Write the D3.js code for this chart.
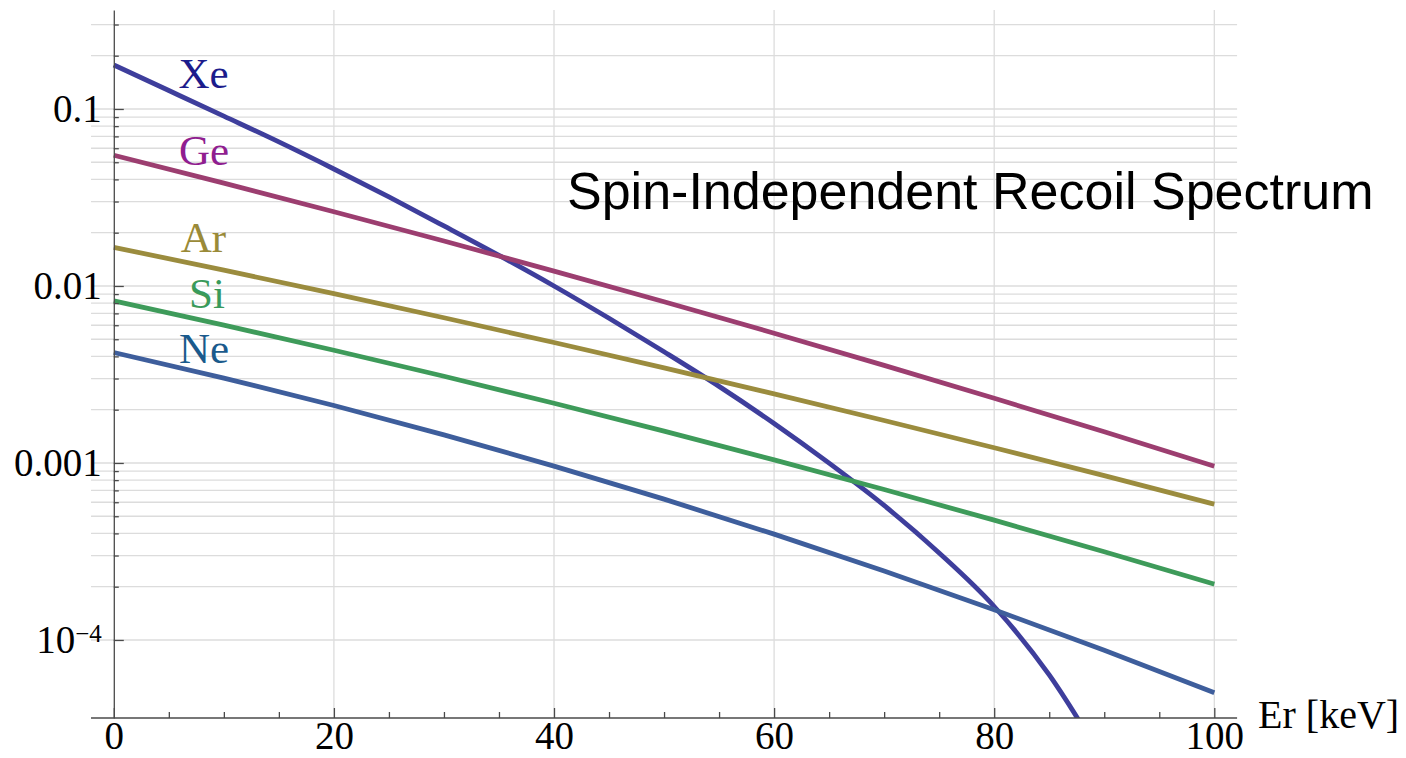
<!DOCTYPE html>
<html>
<head>
<meta charset="utf-8">
<script src="https://cdn.jsdelivr.net/npm/d3@7"></script>
<style>
  html, body { margin: 0; padding: 0; background: white; }
  svg { display: block; }
</style>
</head>
<body>
<svg id="chart"></svg>
<script>
//recoil energies [keV]
var erXe = [0, 5, 10, 15, 20, 25, 30, 35, 40, 45, 50, 55, 60, 65, 70, 75, 80, 85, 90]
var erOther = [0, 10, 20, 30, 40, 50, 60, 70, 80, 90, 100]

//spectra
var xeValues = [0.1773, 0.1271, 0.09106, 0.06511, 0.04581, 0.03183, 0.02183, 0.01489, 0.01000, 0.006569,
                0.004248, 0.002709, 0.001672, 0.0009975, 0.0005753, 0.0003101, 0.0001546, 0.00006343, 0.00002045]
var geValues = [0.05475, 0.03811, 0.02627, 0.01794, 0.01214, 0.008145, 0.005409, 0.003559, 0.002321, 0.0015, 0.0009596]
var arValues = [0.01654, 0.01228, 0.00905, 0.006613, 0.004793, 0.003445, 0.002457, 0.001738, 0.001219, 0.0008482, 0.0005854]
var siValues = [0.008229, 0.006006, 0.004334, 0.00309, 0.002176, 0.001514, 0.001041, 0.0007078, 0.0004752, 0.0003153, 0.0002067]
var neValues = [0.00421, 0.003018, 0.002111, 0.001441, 0.0009605, 0.0006245, 0.0003963, 0.0002454, 0.0001483, 0.00008748, 0.00005035]

//labels next to each curve
var elements = ["Xe", "Ge", "Ar", "Si", "Ne"]
var labelEr = [8.15, 8.2, 8.15, 8.47, 8.2]
var labelVal = [0.1315, 0.0483, 0.01556, 0.00751, 0.00367]

//ticks
var xMajor = [0, 20, 40, 60, 80, 100]
var xMinor = [5, 10, 15, 25, 30, 35, 45, 50, 55, 65, 70, 75, 85, 90, 95]
var yMajor = [1e-4, 1e-3, 1e-2, 1e-1]
var yLabels = ["10-4", "0.001", "0.01", "0.1"]

var svg = d3.select("#chart")

//svg dimensions
var dimensions = {
    width: 1406,
    height: 758,
    margin: {
        top: 10,
        bottom: 40,
        left: 113.8,
        right: 191.7
    }
}

//drawing style
var lineColors = ["#3e3e9c", "#9c3e70", "#9b8c3e", "#3e9b5a", "#3e5e9c"]
var textColors = ["#1c1c8c", "#901e90", "#9a8a38", "#3a9a5a", "#1a5a8c"]
var gridColor = "#dcdcdc"
var axisColor = "#4a4a4a"
var lineWidth = 4.8
var serif = "'Liberation Serif', 'Times New Roman', serif"
var tickFontSize = 39

svg.attr("width", dimensions.width)
   .attr("height", dimensions.height)

//scales
var x = d3.scaleLinear()
          .domain([0, 100])
          .range([dimensions.margin.left, dimensions.width - dimensions.margin.right])
var y = d3.scaleLog()
          .domain([3.624e-5, 0.3624])
          .range([dimensions.height - dimensions.margin.bottom, dimensions.margin.top])

var xPad = 2.07
var plotBottom = y.range()[0]
var plotTop = y.range()[1]

//gridlines, one per minor tick
var gridVals = []
for (var e = -4; e <= -1; e++) {
    for (var k = 1; k <= 9; k++) {
        var v = k * Math.pow(10, e)
        if (v <= y.domain()[1]) gridVals.push(v)
    }
}
svg.append("g")
   .selectAll("line")
   .data(gridVals)
   .enter()
   .append("line")
   .attr("x1", x(-xPad))
   .attr("x2", x(100 + xPad))
   .attr("y1", d => y(d))
   .attr("y2", d => y(d))
   .attr("stroke", gridColor)
   .attr("stroke-width", 1.3)
svg.append("g")
   .selectAll("line")
   .data(xMajor.slice(1))
   .enter()
   .append("line")
   .attr("x1", d => x(d))
   .attr("x2", d => x(d))
   .attr("y1", plotTop)
   .attr("y2", plotBottom)
   .attr("stroke", gridColor)
   .attr("stroke-width", 1.3)

//curves, clipped to the frame
svg.append("clipPath")
   .attr("id", "plot-clip")
   .append("rect")
   .attr("x", x(-xPad))
   .attr("y", plotTop)
   .attr("width", x(100 + xPad) - x(-xPad))
   .attr("height", plotBottom - plotTop)

var series = [
    erXe.map((d, i) => ({er: d, v: xeValues[i]})),
    erOther.map((d, i) => ({er: d, v: geValues[i]})),
    erOther.map((d, i) => ({er: d, v: arValues[i]})),
    erOther.map((d, i) => ({er: d, v: siValues[i]})),
    erOther.map((d, i) => ({er: d, v: neValues[i]}))
]

var line = d3.line()
             .x(d => x(d.er))
             .y(d => y(d.v))
             .curve(d3.curveMonotoneX)

svg.append("g")
   .attr("clip-path", "url(#plot-clip)")
   .selectAll("path")
   .data(series)
   .enter()
   .append("path")
   .attr("d", d => line(d))
   .attr("fill", "none")
   .attr("stroke", (d, i) => lineColors[i])
   .attr("stroke-width", lineWidth)
   .attr("stroke-linejoin", "round")

//axes
var xAxis = svg.append("g")
               .attr("transform", `translate(0,${plotBottom})`)
               .call(d3.axisBottom(x).tickValues(xMajor).tickSizeInner(-10).tickSizeOuter(0).tickPadding(3))
var xMinorAxis = svg.append("g")
                    .attr("transform", `translate(0,${plotBottom})`)
                    .call(d3.axisBottom(x).tickValues(xMinor).tickSizeInner(-6).tickSizeOuter(0).tickFormat(""))
xMinorAxis.select(".domain").remove()
xAxis.select(".domain")
     .attr("d", `M${x(-xPad)},0H${x(100 + xPad)}`)

var yAxis = svg.append("g")
               .attr("transform", `translate(${x(0)},0)`)
               .call(d3.axisLeft(y).tickValues(yMajor).tickSizeInner(-10).tickSizeOuter(0).tickPadding(12)
                       .tickFormat((d, i) => yLabels[i]))
var yMinorAxis = svg.append("g")
                    .attr("transform", `translate(${x(0)},0)`)
                    .call(d3.axisLeft(y).tickValues(gridVals.filter(d => yMajor.indexOf(d) < 0))
                            .tickSizeInner(-5).tickSizeOuter(0).tickFormat(""))
yMinorAxis.select(".domain").remove()

svg.selectAll(".domain, .tick line")
   .attr("stroke", axisColor)
   .attr("stroke-width", 1.3)
svg.selectAll(".tick text")
   .attr("fill", "black")
   .style("font-family", serif)
   .style("font-size", tickFontSize + "px")

//10^-4 with a superscript
yAxis.selectAll(".tick text")
     .filter((d, i) => i == 0)
     .text(null)
     .call(t => {
         t.append("tspan").text("10")
         t.append("tspan").attr("dy", "-0.45em").style("font-size", "25px").text("\u22124")
     })
     .attr("x", -12)

//axis label
svg.append("text")
   .attr("x", x(100 + xPad) + 21)
   .attr("y", plotBottom + 10)
   .style("font-family", serif)
   .style("font-size", "40px")
   .text("Er [keV]")

//curve labels
svg.append("g")
   .selectAll("text")
   .data(elements)
   .enter()
   .append("text")
   .attr("x", (d, i) => x(labelEr[i]))
   .attr("y", (d, i) => y(labelVal[i]))
   .attr("text-anchor", "middle")
   .attr("fill", (d, i) => textColors[i])
   .style("font-family", serif)
   .style("font-size", "43px")
   .text(d => d)

//title
svg.append("text")
   .attr("x", 567)
   .attr("y", 209)
   .style("font-family", "'Liberation Sans', Arial, sans-serif")
   .style("font-size", "52px")
   .text("Spin-Independent Recoil Spectrum")
</script>
</body>
</html>
